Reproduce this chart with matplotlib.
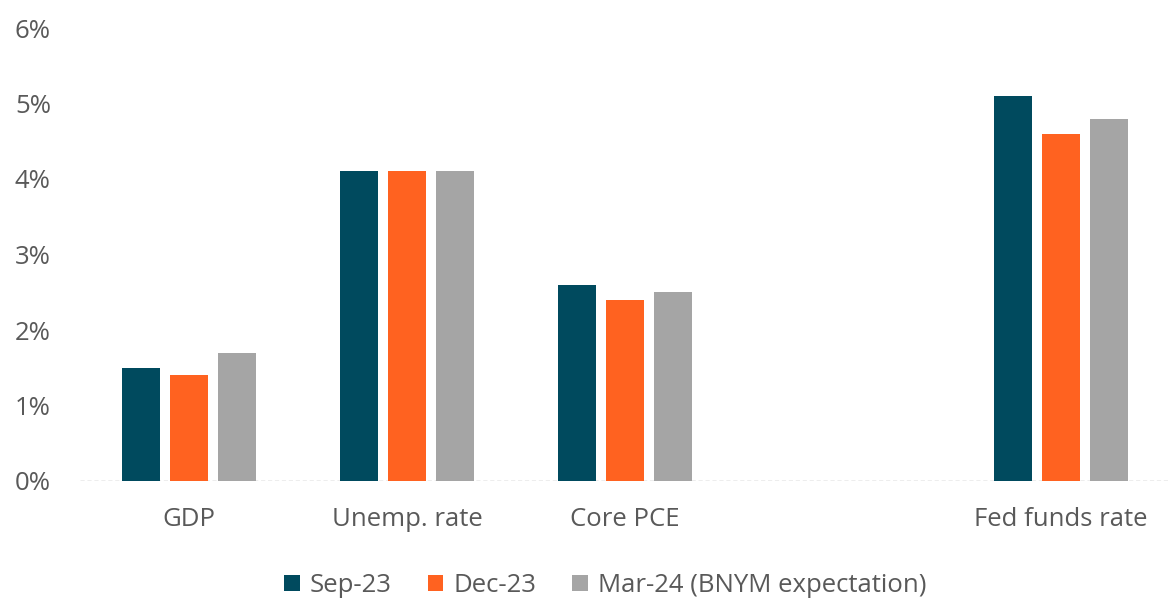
import numpy as np
import matplotlib.pyplot as plt

# data
categories = ["GDP", "Unemp. rate", "Core PCE", "", "Fed funds rate"]
series_names = ["Sep-23", "Dec-23", "Mar-24 (BNYM expectation)"]
sep23 = [1.5, 4.1, 2.6, np.nan, 5.1]
dec23 = [1.4, 4.1, 2.4, np.nan, 4.6]
mar24 = [1.7, 4.1, 2.5, np.nan, 4.8]

colors = ["#004A5E", "#FF6220", "#A5A5A5"]
TEXT_COLOR = "#595959"

plt.rcParams['font.family'] = ['Open Sans', 'DejaVu Sans']

fig = plt.figure(figsize=(11.7, 6), dpi=100)
ax = fig.add_axes([80 / 1170, 119 / 600, 1090 / 1170, 453 / 600])

x = np.arange(len(categories))
width = 0.174
step = 0.222
for i, (vals, name) in enumerate(zip([sep23, dec23, mar24], series_names)):
    ax.bar(x + (i - 1) * step, vals, width, color=colors[i], label=name, zorder=2)

ax.set_xlim(-0.5, len(categories) - 0.5)
ax.set_ylim(0, 6)
ax.set_yticks(range(0, 7))
ax.set_yticklabels([f"{v}%" for v in range(0, 7)])
ax.set_xticks(x)
ax.set_xticklabels(categories)

for s in ["top", "right", "left", "bottom"]:
    ax.spines[s].set_visible(False)
ax.axhline(0, color="#A6A6A6", lw=1, ls=(0, (3, 2)), zorder=1)

ax.tick_params(axis="both", length=0, colors=TEXT_COLOR, labelsize=18.5)
ax.tick_params(axis="y", pad=21)
ax.tick_params(axis="x", pad=19)

leg = ax.legend(loc="upper center", bbox_to_anchor=(0.482, -0.152), ncol=3, frameon=False,
                fontsize=18.5, handlelength=0.6, handleheight=0.6, handletextpad=0.4,
                columnspacing=1.4)
for t in leg.get_texts():
    t.set_color(TEXT_COLOR)

fig.savefig("out.png", dpi=100, facecolor="white")
